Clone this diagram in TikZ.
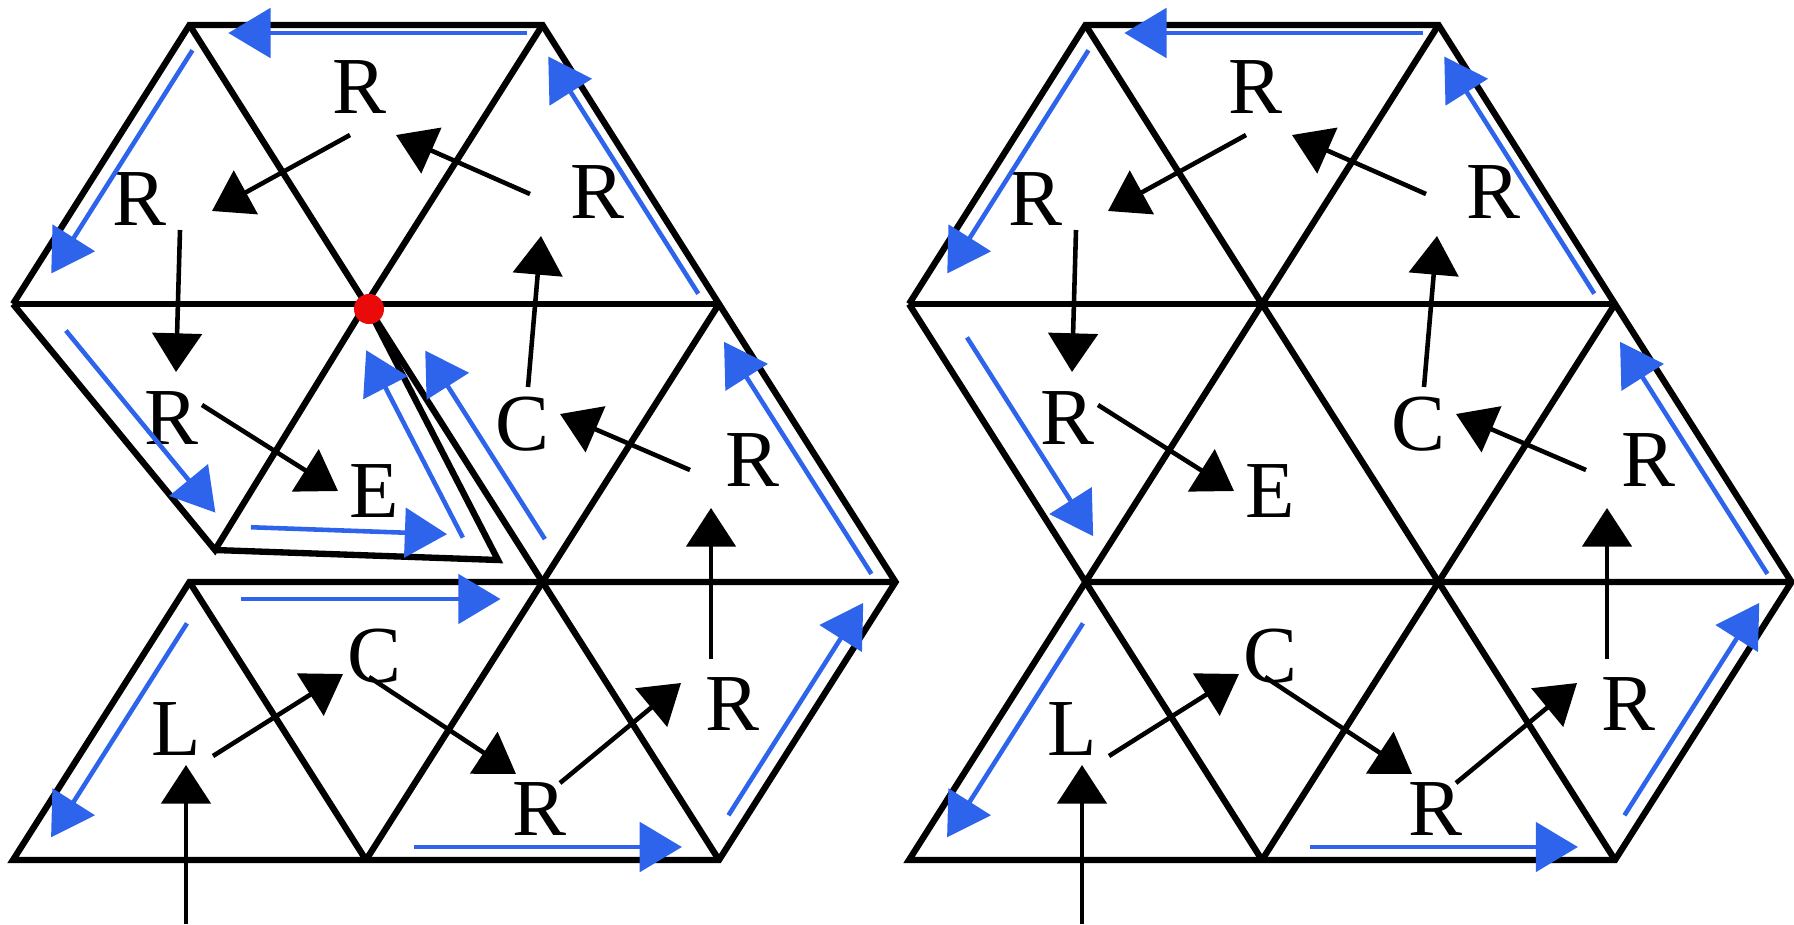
\documentclass[tikz,border=0pt]{standalone}
\usepackage{fontspec}
\setmainfont{Liberation Serif}
\usetikzlibrary{calc,arrows.meta}
\definecolor{flowblue}{RGB}{45,100,235}
\definecolor{seamred}{RGB}{235,10,10}
\tikzset{
  mesh/.style={line width=1.8pt, line join=miter},
  lab/.style={inner sep=0pt, font=\fontsize{23}{26}\selectfont},
  dep/.style={line width=1.3pt, -{Triangle[length=11pt,width=14pt]}},
  flow/.style={flowblue, line width=1.3pt, -{Triangle[length=12pt,width=14pt]}}
}
% blue arrow beside an edge: from, to, start, end, offset
\newcommand{\alongedge}[5]{%
  \draw[flow] ($(#1)!#3!(#2)!#5!90:(#2)$) -- ($(#1)!#4!(#2)!#5!-90:(#1)$);}

\begin{document}
\begin{tikzpicture}[x=0.01cm, y=-0.01cm]
  \useasboundingbox (0,0) rectangle (1794,924);
  \foreach \pre/\ox in {a/0, b/896} {
    % mesh vertices
    \coordinate (\pre10) at (\ox+189.5,25);
    \coordinate (\pre30) at (\ox+542.5,25);
    \coordinate (\pre01) at (\ox+13,304);
    \coordinate (\pre21) at (\ox+366,304);
    \coordinate (\pre41) at (\ox+719,304);
    \coordinate (\pre12) at (\ox+189.5,582);
    \coordinate (\pre32) at (\ox+542.5,582);
    \coordinate (\pre52) at (\ox+895.5,582);
    \coordinate (\pre03) at (\ox+13,860);
    \coordinate (\pre23) at (\ox+366,860);
    \coordinate (\pre43) at (\ox+719,860);
    \coordinate (\pre-in) at (\ox+186,924);
    \draw[mesh] (\pre01) -- (\pre10) -- (\pre30) -- (\pre41) -- (\pre52)
      -- (\pre43) -- (\pre03) -- (\pre12) -- (\pre52);
    \draw[mesh] (\pre01) -- (\pre41);
    \draw[mesh] (\pre10) -- (\pre21) -- (\pre30);
    \draw[mesh] (\pre21) -- (\pre32) -- (\pre43);
    \draw[mesh] (\pre23) -- (\pre32) -- (\pre41);
    \draw[mesh] (\pre12) -- (\pre23);
    % labels
    \node[lab] (\pre-rt) at (\ox+359,87) {R};
    \node[lab] (\pre-rl) at (\ox+139,199) {R};
    \node[lab] (\pre-rr) at (\ox+597,192) {R};
    \node[lab] (\pre-rm) at (\ox+171,418) {R};
    \node[lab] (\pre-e) at (\ox+374,491) {E};
    \node[lab] (\pre-cm) at (\ox+522,424) {C};
    \node[lab] (\pre-rmr) at (\ox+752,460) {R};
    \node[lab] (\pre-cl) at (\ox+374,656) {C};
    \node[lab] (\pre-l) at (\ox+176,729) {L};
    \node[lab] (\pre-rlo) at (\ox+539,809) {R};
    \node[lab] (\pre-rlr) at (\ox+732,704) {R};
    % dependencies
    \draw[dep] ($(\pre-rt)+(-9,48)$) -- ($(\pre-rl)+(73,12)$);
    \draw[dep] ($(\pre-rr)+(-67,2)$) -- ($(\pre-rt)+(37,48)$);
    \draw[dep] ($(\pre-rl)+(41,31)$) -- ($(\pre-rm)+(5,-46)$);
    \draw[dep] ($(\pre-rm)+(31,-13)$) -- ($(\pre-e)+(-36,0)$);
    \draw[dep] ($(\pre-cm)+(6,-37)$) -- ($(\pre-rr)+(-56,44)$);
    \draw[dep] ($(\pre-rmr)+(-62,10)$) -- ($(\pre-cm)+(38,-10)$);
    \draw[dep] ($(\pre-rlr)+(-21,-45)$) -- ($(\pre-rmr)+(-41,48)$);
    \draw[dep] ($(\pre-rlo)+(21,-26)$) -- ($(\pre-rlr)+(-51,-21)$);
    \draw[dep] ($(\pre-cl)+(-5,21)$) -- ($(\pre-rlo)+(-23,-35)$);
    \draw[dep] ($(\pre-l)+(37,27)$) -- ($(\pre-cl)+(-31,18)$);
    \draw[dep] (\pre-in) -- ($(\pre-l)+(10,36)$);
    % boundary arrows
    \alongedge{\pre30}{\pre10}{0.045}{0.89}{0.08cm}
    \alongedge{\pre10}{\pre01}{0.06}{0.86}{0.16cm}
    \alongedge{\pre41}{\pre30}{0.06}{0.91}{0.12cm}
    \alongedge{\pre52}{\pre41}{0.06}{0.895}{0.16cm}
    \alongedge{\pre12}{\pre03}{0.11}{0.88}{0.2cm}
    \alongedge{\pre23}{\pre43}{0.136}{0.895}{0.13cm}
    \alongedge{\pre43}{\pre52}{0.13}{0.894}{0.16cm}
  }
  % left: the split-off triangle
  \coordinate (a-p) at (215,550);
  \coordinate (a-q) at (498,560);
  \draw[mesh] (a01) -- (a-p) -- (a21);
  \draw[mesh] (a-p) -- (a-q) -- (a21);
  \alongedge{a01}{a-p}{0.17}{0.91}{0.24cm}
  \alongedge{a-p}{a-q}{0.124}{0.817}{0.24cm}
  \alongedge{a-q}{a21}{0.125}{0.857}{0.21cm}
  \alongedge{a32}{a21}{0.106}{0.784}{-0.25cm}
  \alongedge{a12}{a32}{0.147}{0.881}{-0.17cm}
  \fill[seamred] ($(a21)+(3,5)$) circle[radius=0.15cm];
  % right: the closed mesh
  \draw[mesh] (b01) -- (b12) -- (b21);
  \alongedge{b01}{b12}{0.18}{0.895}{0.31cm}
\end{tikzpicture}
\end{document}
